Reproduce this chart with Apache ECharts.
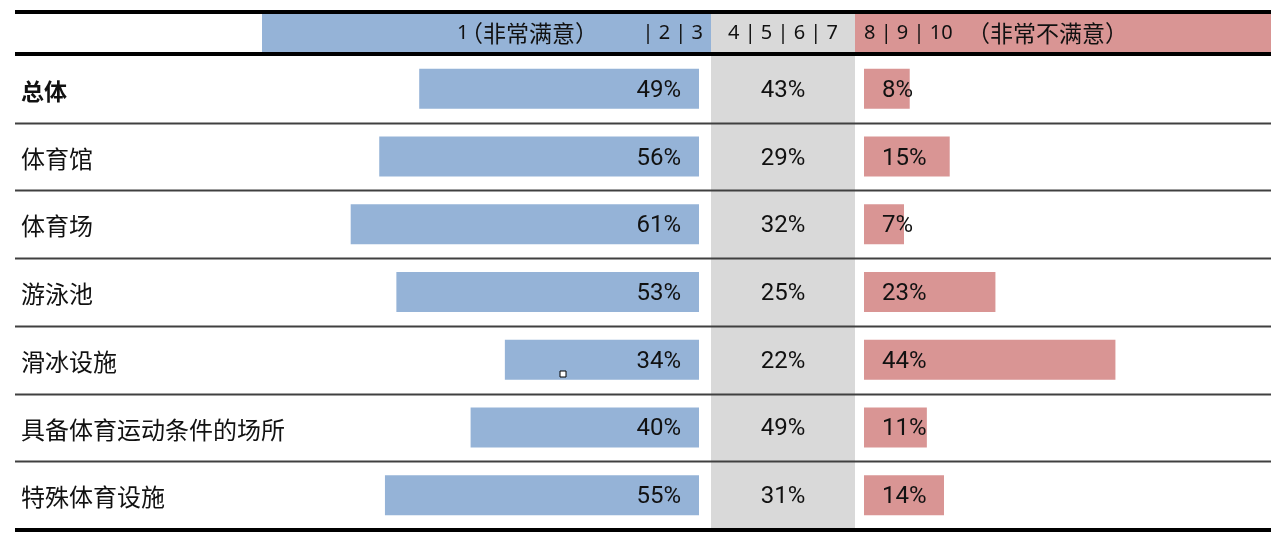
<!DOCTYPE html>
<html lang="zh">
<head>
    <meta charset="UTF-8">
    <title>满意度</title>
    <script src="https://cdn.jsdelivr.net/npm/echarts@6/dist/echarts.min.js"></script>
    <style>
        html, body { margin: 0; padding: 0; background: #fff; }
        #main { width: 1282px; height: 555px; }
    </style>
</head>
<body>
<div id="main"></div>
<script>
    // 数据
    var categories = ['总体', '体育馆', '体育场', '游泳池', '滑冰设施', '具备体育运动条件的场所', '特殊体育设施'];
    var satisfied = [49, 56, 61, 53, 34, 40, 55];      // 1 | 2 | 3
    var neutral = [43, 29, 32, 25, 22, 49, 31];        // 4 | 5 | 6 | 7
    var dissatisfied = [8, 15, 7, 23, 44, 11, 14];     // 8 | 9 | 10
    var headers = ['1', '（非常满意）', '| 2 | 3', '4 | 5 | 6 | 7', '8 | 9 | 10', '（非常不满意）'];

    var FONT = 'Roboto, "Noto Sans CJK SC", sans-serif';
    var CJK = '"Noto Sans CJK SC", sans-serif';
    var BLUE = '#95b3d7', GREY = '#d9d9d9', RED = '#d99594';
    var TOP = 55, BOTTOM = 529;

    var chart = echarts.init(document.getElementById('main'));

    var rowH = (BOTTOM - TOP) / categories.length;
    var hFont = '20px "Noto Sans", "Noto Sans CJK SC", sans-serif';
    var hCjk = '23px ' + CJK;
    function headText(x, txt, align, font) {
        return {type: 'text', x: x, y: 33, z: 5,
            style: {text: txt, font: font || hFont, fill: '#111', align: align || 'left', verticalAlign: 'middle'}};
    }
    var graphics = [
        // 表头色块
        {type: 'rect', shape: {x: 262, y: 13, width: 449, height: 40}, style: {fill: BLUE}, z: 1},
        {type: 'rect', shape: {x: 711, y: 13, width: 144, height: 40}, style: {fill: GREY}, z: 1},
        {type: 'rect', shape: {x: 855, y: 13, width: 416, height: 40}, style: {fill: RED}, z: 1},
        headText(457, headers[0]),
        headText(460, headers[1], 'left', hCjk),
        headText(703, headers[2], 'right'),
        headText(783, headers[3], 'center'),
        headText(864, headers[4]),
        headText(967, headers[5], 'left', hCjk),
        // 粗线
        {type: 'line', shape: {x1: 15, y1: 12, x2: 1271, y2: 12}, style: {stroke: '#000', lineWidth: 4}, z: 10},
        {type: 'line', shape: {x1: 15, y1: 54, x2: 1271, y2: 54}, style: {stroke: '#000', lineWidth: 4}, z: 10},
        {type: 'line', shape: {x1: 15, y1: 530, x2: 1271, y2: 530}, style: {stroke: '#000', lineWidth: 4}, z: 10},
        // 选中标记
        {type: 'rect', shape: {x: 560, y: 371, width: 6, height: 6}, style: {fill: '#fff', stroke: '#000', lineWidth: 1}, z: 20}
    ];
    for (var i = 1; i < categories.length; i++) {
        var y = Math.round(TOP + i * rowH) + 0.5;
        graphics.push({type: 'line', shape: {x1: 15, y1: y, x2: 1271, y2: y},
            style: {stroke: '#404040', lineWidth: 2}, z: 10});
    }

    var labelStyle = {show: true, fontFamily: FONT, fontSize: 24, color: '#111', offset: [0, 2]};

    var option = {
        animation: false,
        textStyle: {fontFamily: FONT},
        grid: [
            {left: 128, width: 571, top: TOP, bottom: 555 - BOTTOM},
            {left: 711, width: 144, top: TOP, bottom: 555 - BOTTOM},
            {left: 864, width: 400, top: TOP, bottom: 555 - BOTTOM}
        ],
        xAxis: [
            {gridIndex: 0, type: 'value', min: 0, max: 100, inverse: true, show: false},
            {gridIndex: 1, type: 'value', min: 0, max: 1, show: false},
            {gridIndex: 2, type: 'value', min: 0, max: 70, show: false}
        ],
        yAxis: [
            {
                gridIndex: 0, type: 'category', data: categories, inverse: true,
                axisLine: {show: false}, axisTick: {show: false},
                axisLabel: {
                    align: 'left', margin: 107, fontSize: 24, color: '#111', fontFamily: CJK,
                    formatter: function (v, idx) { return idx === 0 ? '{b|' + v + '}' : '{n|' + v + '}'; },
                    rich: {
                        b: {fontWeight: 'bold', fontSize: 23, fontFamily: CJK, color: '#111', padding: [4, 0, 0, 0]},
                        n: {fontSize: 24, fontFamily: CJK, color: '#111', padding: [4, 0, 0, 0]}
                    }
                }
            },
            {gridIndex: 1, type: 'category', data: categories, inverse: true, show: false},
            {gridIndex: 2, type: 'category', data: categories, inverse: true, show: false}
        ],
        graphic: graphics,
        series: [
            {
                name: '1 | 2 | 3', type: 'bar', xAxisIndex: 0, yAxisIndex: 0,
                data: satisfied, barWidth: 40, itemStyle: {color: BLUE},
                label: Object.assign({}, labelStyle, {position: 'insideRight', distance: 18, formatter: '{c}%'})
            },
            {
                name: '4 | 5 | 6 | 7', type: 'bar', xAxisIndex: 1, yAxisIndex: 1,
                data: neutral.map(function (v) { return {value: 1, pct: v}; }),
                barWidth: '101%', itemStyle: {color: GREY},
                label: Object.assign({}, labelStyle, {
                    position: 'inside',
                    formatter: function (p) { return neutral[p.dataIndex] + '%'; }
                })
            },
            {
                name: '8 | 9 | 10', type: 'bar', xAxisIndex: 2, yAxisIndex: 2,
                data: dissatisfied, barWidth: 40, itemStyle: {color: RED},
                label: Object.assign({}, labelStyle, {position: 'insideLeft', distance: 18, formatter: '{c}%'})
            }
        ]
    };
    chart.setOption(option);
</script>
</body>
</html>
